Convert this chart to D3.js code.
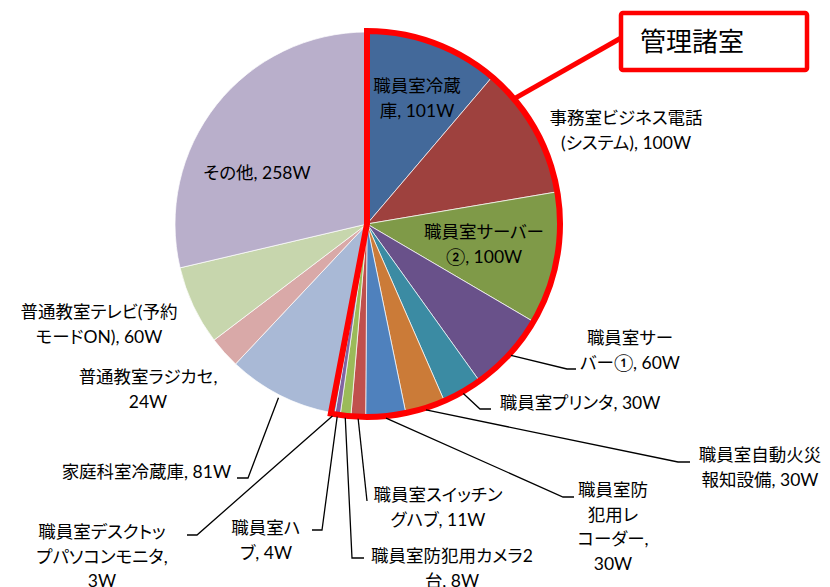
<!DOCTYPE html>
<html>
  <head>
    <meta charset="UTF-8" />
    <script src="https://d3js.org/d3.v7.min.js"></script>
    <style>
      body { margin: 0; background: #fff; }
      text { font-family: Lato, "Noto Sans CJK JP", sans-serif; font-feature-settings: "palt"; }
    </style>
  </head>
  <body>
    <div id="chart"></div>

    <script>
      // data
      var names = [
        "職員室冷蔵庫", "事務室ビジネス電話(システム)", "職員室サーバー②", "職員室サーバー①",
        "職員室プリンタ", "職員室自動火災報知設備", "職員室防犯用レコーダー", "職員室スイッチングハブ",
        "職員室防犯用カメラ2台", "職員室ハブ", "職員室デスクトップパソコンモニタ", "家庭科室冷蔵庫",
        "普通教室ラジカセ", "普通教室テレビ(予約モードON)", "その他"
      ];
      var watts = [101, 100, 100, 60, 30, 30, 30, 11, 8, 4, 3, 81, 24, 60, 258];
      var unit = "W";
      var groupName = "管理諸室";
      var groupCount = 11; // first 11 slices belong to 管理諸室

      var colors = [
        "#43699A", "#9E413E", "#7F9A48", "#69518A", "#3B8BA3", "#CB7B38",
        "#4F81BD", "#C0504D", "#9BBB59", "#8064A2", "#4BACC6",
        "#A9B9D6", "#D9A9A8", "#C7D6AD", "#B9AFCB"
      ];

      // label layout: line breaks (char index), center x, first line y, leader elbow
      var labelLayout = [
        { br: [5], x: 417, y: 86 },
        { br: [9], x: 626, y: 118 },
        { br: [7], x: 484, y: 232 },
        { br: [5], x: 630, y: 338, elbow: [567, 369], end: 576 },
        { br: [], x: 580, y: 403, elbow: [480, 409], end: 491 },
        { br: [7], x: 760, y: 455, elbow: [678, 462], end: 690 },
        { br: [4, 7, 12], x: 613, y: 490, elbow: [563, 497], end: 574 },
        { br: [8], x: 438, y: 495, elbow: [367, 501], end: 367 },
        { br: [10], x: 452, y: 556, elbow: [352, 558], end: 364 },
        { br: [4], x: 266, y: 528, elbow: [322, 530], end: 312 },
        { br: [8, 17], x: 102, y: 532, elbow: [197, 535], end: 187 },
        { br: [], x: 140, y: 472, elbow: [248, 478], end: 237 },
        { br: [9], x: 148, y: 377 },
        { br: [10], x: 99, y: 312 },
        { br: [], x: 257, y: 173 }
      ];

      var width = 830, height = 587;
      var cx = 367, cy = 224, radius = 192;
      var lineH = 24.5;

      var svg = d3
        .select("#chart")
        .append("svg")
        .attr("width", width)
        .attr("height", height);

      var pie = d3.pie().sort(null).value((d) => d);
      var arcs = pie(watts);
      var arc = d3.arc().innerRadius(0).outerRadius(radius);

      var g = svg.append("g").attr("transform", "translate(" + cx + "," + cy + ")");

      g.selectAll("path.slice")
        .data(arcs)
        .join("path")
        .attr("class", "slice")
        .attr("d", arc)
        .attr("fill", (d, i) => colors[i])
        .attr("stroke", "#fff")
        .attr("stroke-width", 0.7);

      // red outline around 管理諸室 slices
      var groupEnd = arcs[groupCount - 1].endAngle;
      var outline = d3.arc().innerRadius(0).outerRadius(radius + 1);
      g.append("path")
        .attr("d", outline({ startAngle: 0, endAngle: groupEnd }))
        .attr("fill", "none")
        .attr("stroke", "#FF0000")
        .attr("stroke-width", 6)
        .attr("stroke-linejoin", "miter");

      // leader lines
      function edgePoint(a, r) {
        return [cx + r * Math.sin(a), cy - r * Math.cos(a)];
      }

      arcs.forEach(function (d, i) {
        var L = labelLayout[i];
        if (!L.elbow) return;
        var mid = (d.startAngle + d.endAngle) / 2;
        var p0 = edgePoint(mid, radius + 3);
        svg.append("path")
          .attr("d", d3.line()([p0, L.elbow, [L.end, L.elbow[1]]]))
          .attr("fill", "none")
          .attr("stroke", "#000")
          .attr("stroke-width", 1.3);
      });

      // labels
      arcs.forEach(function (d, i) {
        var L = labelLayout[i];
        var full = names[i] + ", " + watts[i] + unit;
        var lines = [];
        var start = 0;
        L.br.forEach(function (b) {
          lines.push(full.slice(start, b).trim());
          start = b;
        });
        lines.push(full.slice(start).trim());
        var t = svg.append("text")
          .attr("text-anchor", i === 11 ? "end" : "middle")
          .attr("font-size", 17.5)
          .attr("fill", "#000");
        lines.forEach(function (s, k) {
          t.append("tspan")
            .attr("x", i === 11 ? 231 : L.x)
            .attr("y", L.y + k * lineH)
            .attr("dy", "0.35em")
            .text(s);
        });
      });

      // callout box
      var calloutAngle = (49.6 * Math.PI) / 180;
      var cp = edgePoint(calloutAngle, radius + 1);
      svg.append("line")
        .attr("x1", cp[0]).attr("y1", cp[1])
        .attr("x2", 621).attr("y2", 38)
        .attr("stroke", "#FF0000")
        .attr("stroke-width", 5);
      svg.append("rect")
        .attr("x", 621).attr("y", 13)
        .attr("width", 186).attr("height", 57)
        .attr("rx", 2)
        .attr("fill", "#fff")
        .attr("stroke", "#FF0000")
        .attr("stroke-width", 4.5);
      svg.append("text")
        .attr("x", 640).attr("y", 42)
        .attr("dy", "0.35em")
        .attr("font-size", 26)
        .attr("fill", "#000")
        .text(groupName);
    </script>
  </body>
</html>
